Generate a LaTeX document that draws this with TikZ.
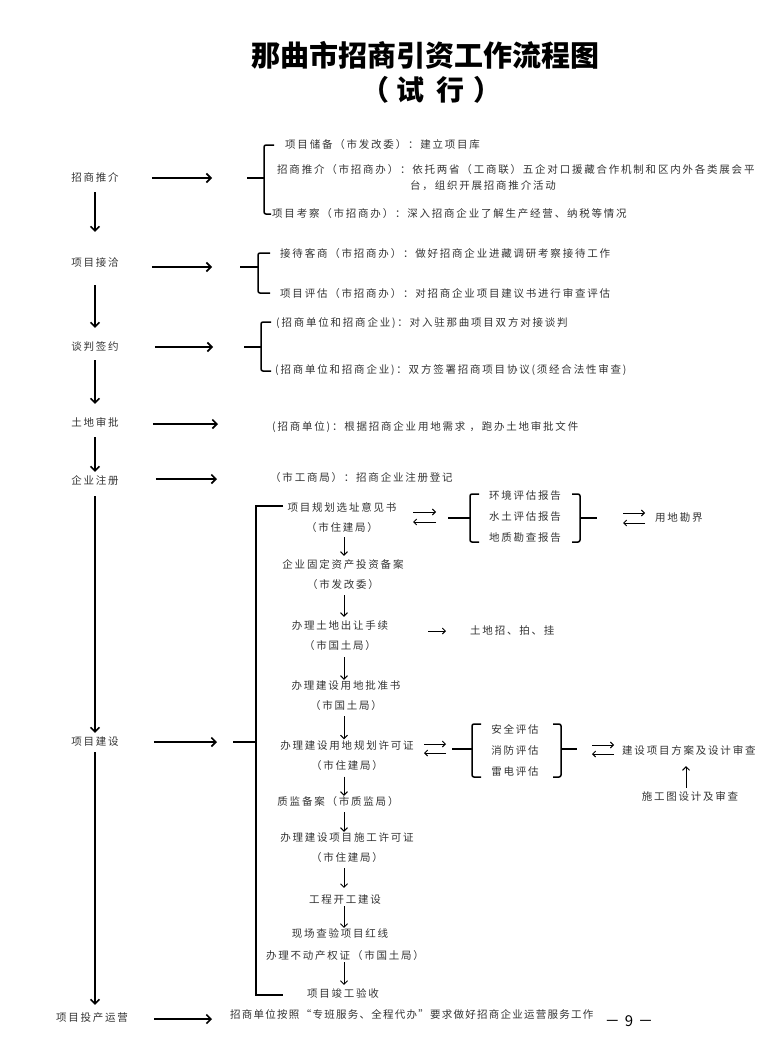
\documentclass[tikz,border=0pt]{standalone}
\usepackage{fontspec}
\setmainfont{Noto Sans CJK SC}
\newfontfamily\cjk[LetterSpace=17]{Noto Sans CJK SC}
\newfontfamily\cjkn[LetterSpace=12]{Noto Sans CJK SC}
\usetikzlibrary{arrows.meta}
\begin{document}
\begin{tikzpicture}[x=1pt,y=-1pt,
  lbl/.style={font=\cjk\fontsize{10.5}{12}\selectfont, inner sep=0pt, text=black!80},
  stack/.style={font=\cjk\fontsize{10.5}{20}\selectfont, inner sep=0pt, align=center, text=black!80},
  stackc/.style={font=\cjk\fontsize{10.5}{21}\selectfont, inner sep=0pt, align=center, text=black!80},
  harr/.style={line width=1.6pt, -{Straight Barb[length=4.5pt,width=9pt]}},
  varr/.style={line width=1.6pt, -{Straight Barb[length=4.5pt,width=9pt]}},
  sarr/.style={line width=1pt, -{Straight Barb[length=3.5pt,width=7pt]}},
  tarr/.style={line width=0.9pt, -{Straight Barb[length=3pt,width=6pt]}},
  brk/.style={line width=1.5pt, rounded corners=2pt},
  bigbrk/.style={line width=1.8pt},
]
\useasboundingbox (0,0) rectangle (767,1046);

% title
\node[font=\fontsize{29}{31}\selectfont\bfseries, inner sep=0pt] (title) at (425,55) {那曲市招商引资工作流程图};
\node[font=\fontsize{28}{30}\selectfont\bfseries, inner sep=0pt] (sub) at (431,90) {（\hspace{8pt}试\hspace{12pt}行\hspace{8pt}）};

% left column
\coordinate (lc) at (95,0);
\node[lbl] (a1) at (95,177) {招商推介};
\node[lbl] (a2) at (95,263) {项目接洽};
\node[lbl] (a3) at (95,347) {谈判签约};
\node[lbl] (a4) at (95,422) {土地审批};
\node[lbl] (a5) at (95,480) {企业注册};
\node[lbl] (a6) at (95,742) {项目建设};
\node[lbl] (a7) at (92,1018) {项目投产运营};

\draw[varr, shorten <=10pt, shorten >=26pt] (a1.south -| lc) -- (a2.north -| lc);
\draw[varr, shorten <=17pt, shorten >=14pt] (a2.south -| lc) -- (a3.north -| lc);
\draw[varr, shorten <=8pt, shorten >=13pt] (a3.south -| lc) -- (a4.north -| lc);
\draw[varr, shorten <=10pt, shorten >=3pt] (a4.south -| lc) -- (a5.north -| lc);
\draw[varr, shorten <=11pt, shorten >=4pt] (a5.south -| lc) -- (a6.north -| lc);
\draw[varr, shorten <=5pt, shorten >=8pt] (a6.south -| lc) -- (a7.north -| lc);

% section 1
\coordinate (b1m) at (247,178);
\draw[brk] (274,145) -- (264,145) -- (264,214) -- (271,214);
\draw[brk] (b1m) -- (264,178);
\draw[harr, shorten <=33pt, shorten >=35pt] (a1.east |- b1m) -- (b1m);
\node[lbl, anchor=west] (t11) at (285,145) {项目储备（市发改委）：建立项目库};
\node[lbl, anchor=west] (t12) at (277,170) {招商推介（市招商办）：依托两省（工商联）五企对口援藏合作机制和区内外各类展会平};
\node[lbl, anchor=west] (t12b) at (410,186) {台，组织开展招商推介活动};
\node[lbl, anchor=west] (t13) at (272,214) {项目考察（市招商办）：深入招商企业了解生产经营、纳税等情况};

% section 2
\coordinate (b2m) at (240,267);
\draw[brk] (270,253) -- (258,253) -- (258,293) -- (270,293);
\draw[brk] (b2m) -- (258,267);
\draw[harr, shorten <=33pt, shorten >=28pt] (a2.east |- b2m) -- (b2m);
\node[lbl, anchor=west] (t21) at (280,254) {接待客商（市招商办）：做好招商企业进藏调研考察接待工作};
\node[lbl, anchor=west] (t22) at (280,294) {项目评估（市招商办）：对招商企业项目建议书进行审查评估};

% section 3
\coordinate (b3m) at (244,347);
\draw[brk] (271,322) -- (261,322) -- (261,371) -- (271,371);
\draw[brk] (b3m) -- (261,347);
\draw[harr, shorten <=36pt, shorten >=31pt] (a3.east |- b3m) -- (b3m);
\node[lbl, anchor=west] (t31) at (276,323) {(招商单位和招商企业)：对入驻那曲项目双方对接谈判};
\node[lbl, anchor=west] (t32) at (275,370) {(招商单位和招商企业)：双方签署招商项目协议(须经合法性审查)};

% section 4
\coordinate (e4) at (218,424);
\draw[harr, shorten <=34pt] (a4.east |- e4) -- (e4);
\node[lbl, anchor=west] (t4) at (272,427) {(招商单位)：根据招商企业用地需求 ，跑办土地审批文件};

% section 5
\coordinate (e5) at (217,479);
\draw[harr, shorten <=37pt] (a5.east |- e5) -- (e5);
\node[lbl, anchor=west] (t5) at (270,478) {（市工商局）：招商企业注册登记};

% section 6
\coordinate (e6) at (217,742);
\draw[harr, shorten <=35pt] (a6.east |- e6) -- (e6);
\draw[bigbrk] (283,506) -- (256,506) -- (256,995) -- (283,995);
\draw[bigbrk] (233,742) -- (256,742);

\coordinate (cc) at (344,0);
\node[stack] (p1) at (342,518) {项目规划选址意见书\\（市住建局）};
\node[stack] (p2) at (343,575) {企业固定资产投资备案\\（市发改委）};
\node[stack] (p3) at (340,636) {办理土地出让手续\\（市国土局）};
\node[stack] (p4) at (346,696) {办理建设用地批准书\\（市国土局）};
\node[stack] (p5) at (347,755.5) {办理建设用地规划许可证\\（市住建局）};
\node[lbl] (p6) at (338,801) {质监备案（市质监局）};
\node[stack] (p7) at (347,848) {办理建设项目施工许可证\\（市住建局）};
\node[lbl] (p8) at (345,900) {工程开工建设};
\node[lbl] (p9) at (340,933) {现场查验项目红线};
\node[lbl] (p10) at (345,955) {办理不动产权证（市国土局）};
\node[lbl] (p11) at (343,993) {项目竣工验收};

\draw[sarr, shorten <=4pt, shorten >=4pt] (p1.south -| cc) -- (p2.north -| cc);
\draw[sarr, shorten <=5pt, shorten >=4pt] (p2.south -| cc) -- (p3.north -| cc);
\draw[sarr, shorten <=6pt, shorten >=1pt] (p3.south -| cc) -- (p4.north -| cc);
\draw[sarr, shorten <=5pt, shorten >=1pt] (p4.south -| cc) -- (p5.north -| cc);
\draw[sarr, shorten <=6pt, shorten >=0pt] (p5.south -| cc) -- (p6.north -| cc);
\draw[sarr, shorten <=6pt, shorten >=1pt] (p6.south -| cc) -- (p7.north -| cc);
\draw[sarr, shorten <=5pt, shorten >=7pt] (p7.south -| cc) -- (p8.north -| cc);
\draw[sarr, shorten <=1pt, shorten >=0pt] (p8.south -| cc) -- (p9.north -| cc);
\draw[sarr, shorten <=2pt, shorten >=3pt] (p10.south -| cc) -- (p11.north -| cc);

% right group 1
\node[stackc] (g1) at (525,517) {环境评估报告\\水土评估报告\\地质勘查报告};
\draw[brk] (479,494) -- (470,494) -- (470,542) -- (479,542);
\draw[brk] (448,518) -- (470,518);
\draw[brk] (572,494) -- (580,494) -- (580,542) -- (572,542);
\draw[brk] (580,518) -- (597,518);
\coordinate (d1a) at (413,512); \coordinate (d1b) at (436,512);
\coordinate (d1c) at (436,522); \coordinate (d1d) at (413,522);
\draw[tarr] (d1a) -- (d1b);
\draw[tarr] (d1c) -- (d1d);
\coordinate (d2a) at (623,513); \coordinate (d2b) at (645,513);
\coordinate (d2c) at (645,523); \coordinate (d2d) at (623,523);
\draw[tarr] (d2a) -- (d2b);
\draw[tarr] (d2c) -- (d2d);
\node[lbl, anchor=west] (r1) at (655,518) {用地勘界};

% land auction
\node[lbl, anchor=west] (q3) at (470,631) {土地招、拍、挂};
\coordinate (d3a) at (428,631);
\draw[tarr, shorten >=24pt] (d3a) -- (q3.west);

% right group 2
\node[stackc] (g2) at (515,750) {安全评估\\消防评估\\雷电评估};
\draw[brk] (481,724) -- (472,724) -- (472,777) -- (481,777);
\draw[brk] (452,749) -- (472,749);
\draw[brk] (553,724) -- (561,724) -- (561,777) -- (553,777);
\draw[brk] (561,749) -- (577,749);
\coordinate (d4a) at (424,744); \coordinate (d4b) at (446,744);
\coordinate (d4c) at (446,753); \coordinate (d4d) at (424,753);
\draw[tarr] (d4a) -- (d4b);
\draw[tarr] (d4c) -- (d4d);
\coordinate (d5a) at (592,745); \coordinate (d5b) at (614,745);
\coordinate (d5c) at (614,754); \coordinate (d5d) at (592,754);
\draw[tarr] (d5a) -- (d5b);
\draw[tarr] (d5c) -- (d5d);
\node[lbl, anchor=west] (r2) at (622,750) {建设项目方案及设计审查};
\node[lbl] (r3) at (690,796) {施工图设计及审查};
\coordinate (uc) at (686,0);
\draw[sarr, shorten <=3pt, shorten >=11pt] (r3.north -| uc) -- (r2.south -| uc);

% section 7
\coordinate (e7) at (212,1019);
\draw[harr, shorten <=26pt] (a7.east |- e7) -- (e7);
\node[lbl, anchor=west, font=\cjkn\fontsize{10.5}{12}\selectfont] (t7) at (230,1014) {招商单位按照“专班服务、全程代办”要求做好招商企业运营服务工作};
\node[font=\fontsize{15}{16}\selectfont, inner sep=0pt] (pg) at (629,1021) {－\hspace{5pt}9\hspace{5pt}－};
\end{tikzpicture}
\end{document}
